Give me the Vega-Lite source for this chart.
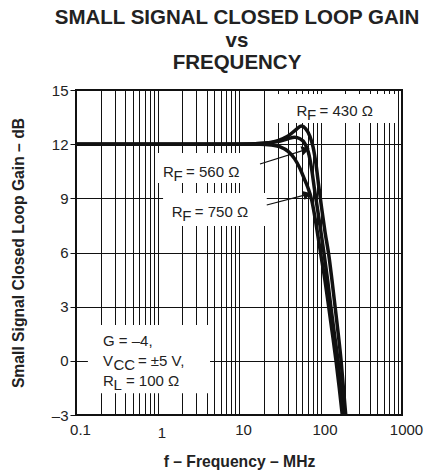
{
  "$schema": "https://vega.github.io/schema/vega-lite/v6.json",
  "width": 326,
  "height": 325,
  "autosize": {"type": "none"},
  "padding": {"left": 76, "top": 90, "right": 27, "bottom": 55},
  "background": "white",
  "title": {
    "text": ["SMALL SIGNAL CLOSED LOOP GAIN", "vs", "FREQUENCY"],
    "font": "Liberation Sans",
    "fontSize": 20.5,
    "fontWeight": "bold",
    "lineHeight": 22.7,
    "anchor": "middle",
    "frame": "group",
    "offset": 9,
    "dx": -2,
    "color": "#222"
  },
  "config": {
    "view": {"stroke": "#111", "strokeWidth": 2},
    "font": "Liberation Sans"
  },
  "datasets": {
    "curves": [
      {"rf": "430", "f": 0.1, "g": 12}, {"rf": "430", "f": 1, "g": 12}, {"rf": "430", "f": 10, "g": 12},
      {"rf": "430", "f": 20, "g": 12.05}, {"rf": "430", "f": 30, "g": 12.2}, {"rf": "430", "f": 40, "g": 12.45},
      {"rf": "430", "f": 50, "g": 12.8}, {"rf": "430", "f": 58, "g": 13.0}, {"rf": "430", "f": 66, "g": 12.85},
      {"rf": "430", "f": 74, "g": 12.45}, {"rf": "430", "f": 81, "g": 11.85}, {"rf": "430", "f": 88, "g": 10.9},
      {"rf": "430", "f": 95, "g": 9.7}, {"rf": "430", "f": 103, "g": 8.5}, {"rf": "430", "f": 114, "g": 7.1},
      {"rf": "430", "f": 126, "g": 5.9}, {"rf": "430", "f": 138, "g": 4.5}, {"rf": "430", "f": 151, "g": 3},
      {"rf": "430", "f": 165, "g": 1.5}, {"rf": "430", "f": 179, "g": 0}, {"rf": "430", "f": 191, "g": -1.5},
      {"rf": "430", "f": 204, "g": -3},
      {"rf": "560", "f": 0.1, "g": 12}, {"rf": "560", "f": 1, "g": 12}, {"rf": "560", "f": 10, "g": 12},
      {"rf": "560", "f": 20, "g": 12.05}, {"rf": "560", "f": 30, "g": 12.15}, {"rf": "560", "f": 40, "g": 12.3},
      {"rf": "560", "f": 48, "g": 12.38}, {"rf": "560", "f": 56, "g": 12.3}, {"rf": "560", "f": 64, "g": 12.05},
      {"rf": "560", "f": 71, "g": 11.55}, {"rf": "560", "f": 78, "g": 10.6}, {"rf": "560", "f": 85, "g": 9.4},
      {"rf": "560", "f": 92, "g": 8.4}, {"rf": "560", "f": 100, "g": 7.3}, {"rf": "560", "f": 110, "g": 6},
      {"rf": "560", "f": 122, "g": 4.5}, {"rf": "560", "f": 134, "g": 3}, {"rf": "560", "f": 148, "g": 1.5},
      {"rf": "560", "f": 164, "g": 0}, {"rf": "560", "f": 177, "g": -1.5}, {"rf": "560", "f": 192, "g": -3},
      {"rf": "750", "f": 0.1, "g": 12}, {"rf": "750", "f": 1, "g": 12}, {"rf": "750", "f": 10, "g": 12},
      {"rf": "750", "f": 18, "g": 12}, {"rf": "750", "f": 25, "g": 11.95}, {"rf": "750", "f": 32, "g": 11.85},
      {"rf": "750", "f": 40, "g": 11.6}, {"rf": "750", "f": 48, "g": 11.2}, {"rf": "750", "f": 56, "g": 10.65},
      {"rf": "750", "f": 63, "g": 10.1}, {"rf": "750", "f": 70, "g": 9.6}, {"rf": "750", "f": 78, "g": 8.9},
      {"rf": "750", "f": 88, "g": 7.6}, {"rf": "750", "f": 100, "g": 6}, {"rf": "750", "f": 113, "g": 4.5},
      {"rf": "750", "f": 126, "g": 3}, {"rf": "750", "f": 140, "g": 1.5}, {"rf": "750", "f": 155, "g": 0},
      {"rf": "750", "f": 170, "g": -1.5}, {"rf": "750", "f": 185, "g": -3}
    ],
    "boxes": [
      {"f": 1.01, "f2": 18.1, "g": 11.51, "g2": 9.85},
      {"f": 1.17, "f2": 21.9, "g": 9.29, "g2": 7.47},
      {"f": 29.4, "f2": 824, "g": 14.78, "g2": 13.17},
      {"f": 0.14, "f2": 4.41, "g": 1.98, "g2": -1.79}
    ],
    "arrows": [
      {"f": 18.1, "g": 10.9, "f2": 66, "g2": 11.7},
      {"f": 21.9, "g": 8.63, "f2": 69, "g2": 9.22}
    ],
    "heads": [
      {"f": 66, "g": 11.7},
      {"f": 69, "g": 9.22}
    ],
    "notes": [
      {"f": 0.214, "g": 0.82, "main": "G = –4,", "sub": "", "rest": "", "kind": "plain"},
      {"f": 0.214, "g": -0.29, "main": "V", "sub": "CC", "rest": "= ±5 V,", "kind": "vcc"},
      {"f": 0.214, "g": -1.4, "main": "R", "sub": "L", "rest": "= 100 Ω", "kind": "rl"},
      {"f": 1.17, "g": 10.18, "main": "R", "sub": "F", "rest": "= 560 Ω", "kind": "rf"},
      {"f": 1.5, "g": 7.95, "main": "R", "sub": "F", "rest": "= 750 Ω", "kind": "rf"},
      {"f": 50.9, "g": 13.54, "main": "R", "sub": "F", "rest": "= 430 Ω", "kind": "rf"}
    ]
  },
  "encoding": {
    "x": {
      "field": "f",
      "type": "quantitative",
      "scale": {"type": "log", "domain": [0.1, 1000], "nice": false},
      "axis": {
        "title": "f – Frequency – MHz",
        "titleFont": "Liberation Sans",
        "titleFontSize": 15.7,
        "titleFontWeight": "bold",
        "titleColor": "#222",
        "titlePadding": 14,
        "values": [0.1, 0.2, 0.3, 0.4, 0.5, 0.6, 0.7, 0.8, 0.9, 1, 2, 3, 4, 5, 6, 7, 8, 9, 10, 20, 30, 40, 50, 60, 70, 80, 90, 100, 200, 300, 400, 500, 600, 700, 800, 900, 1000],
        "labelExpr": "datum.value == 0.1 ? '0.1' : datum.value == 1 ? '1' : datum.value == 10 ? '10' : datum.value == 100 ? '100' : datum.value == 1000 ? '1000' : ''",
        "labelFontSize": 15,
        "labelColor": "#222",
        "labelOverlap": false,
        "labelFlush": false,
        "labelOffset": 4,
        "labelPadding": {"condition": {"test": "datum.value == 1", "value": 10}, "value": 7},
        "ticks": false,
        "domain": false,
        "grid": true,
        "gridColor": "#111",
        "gridWidth": 1,
        "gridOpacity": 1
      }
    },
    "y": {
      "field": "g",
      "type": "quantitative",
      "scale": {"domain": [-3, 15], "nice": false, "zero": false},
      "axis": {
        "title": "Small Signal Closed Loop Gain – dB",
        "titleFont": "Liberation Sans",
        "titleFontSize": 15.7,
        "titleFontWeight": "bold",
        "titleColor": "#222",
        "titlePadding": 25,
        "values": [-3, 0, 3, 6, 9, 12, 15],
        "labelExpr": "datum.value < 0 ? '–' + format(-datum.value, 'd') : format(datum.value, 'd')",
        "labelFontSize": 15,
        "labelColor": "#222",
        "labelPadding": 2,
        "labelOverlap": false,
        "tickSize": 6,
        "tickColor": "#111",
        "tickWidth": 1,
        "domain": false,
        "grid": true,
        "gridColor": "#111",
        "gridWidth": 1,
        "gridOpacity": 1
      }
    }
  },
  "layer": [
    {
      "data": {"name": "boxes"},
      "mark": {"type": "rect", "fill": "white", "stroke": null},
      "encoding": {"x2": {"field": "f2"}, "y2": {"field": "g2"}}
    },
    {
      "data": {"name": "curves"},
      "mark": {"type": "line", "stroke": "#111", "strokeWidth": 3.5, "interpolate": "monotone"},
      "encoding": {"detail": {"field": "rf", "type": "nominal"}}
    },
    {
      "data": {"name": "arrows"},
      "mark": {"type": "rule", "stroke": "#111", "strokeWidth": 1.2},
      "encoding": {"x2": {"field": "f2"}, "y2": {"field": "g2"}}
    },
    {
      "data": {"name": "heads"},
      "mark": {"type": "point", "shape": "triangle-right", "filled": true, "fill": "#111", "stroke": null, "size": 90, "angle": 344, "opacity": 1}
    },
    {
      "data": {"name": "notes"},
      "mark": {"type": "text", "align": "left", "baseline": "alphabetic", "fontSize": 15, "color": "#222", "font": "Liberation Sans"},
      "encoding": {"text": {"field": "main"}}
    },
    {
      "data": {"name": "notes"},
      "transform": [{"filter": "datum.kind != 'plain'"}],
      "mark": {"type": "text", "align": "left", "baseline": "alphabetic", "fontSize": 15, "color": "#222", "font": "Liberation Sans", "dx": 10.5, "dy": 4},
      "encoding": {"text": {"field": "sub"}}
    },
    {
      "data": {"name": "notes"},
      "transform": [{"filter": "datum.kind == 'rf' || datum.kind == 'rl'"}],
      "mark": {"type": "text", "align": "left", "baseline": "alphabetic", "fontSize": 15, "color": "#222", "font": "Liberation Sans", "dx": 23},
      "encoding": {"text": {"field": "rest"}}
    },
    {
      "data": {"name": "notes"},
      "transform": [{"filter": "datum.kind == 'vcc'"}],
      "mark": {"type": "text", "align": "left", "baseline": "alphabetic", "fontSize": 15, "color": "#222", "font": "Liberation Sans", "dx": 35},
      "encoding": {"text": {"field": "rest"}}
    }
  ]
}
